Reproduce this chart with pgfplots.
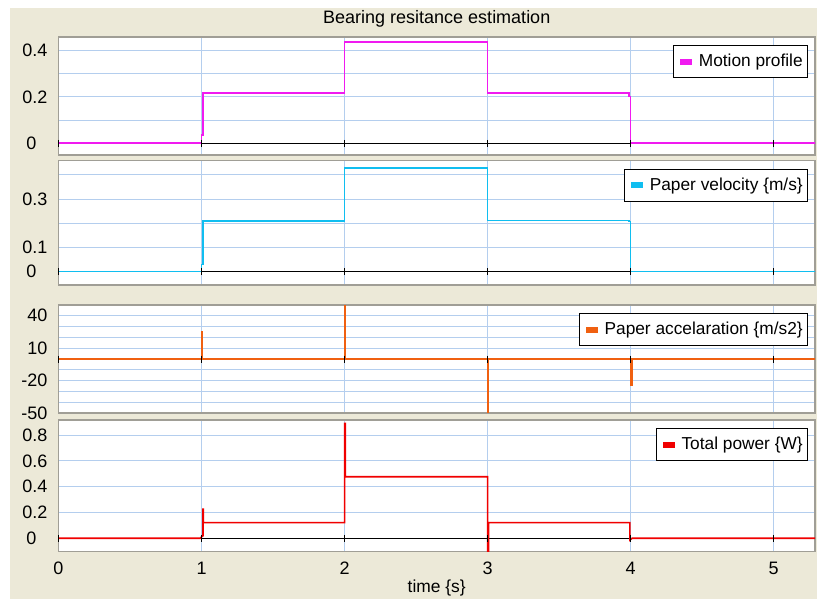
\documentclass[border=0pt]{standalone}
\usepackage{pgfplots}
\pgfplotsset{compat=1.18}
\usepackage{fontspec}
\setmainfont{Liberation Sans}
\definecolor{bg}{HTML}{ECE9D8}
\definecolor{gridc}{HTML}{B4CEEE}
\definecolor{framec}{HTML}{A09E96}
\definecolor{mag}{HTML}{F01AF0}
\definecolor{cyn}{HTML}{10BEF0}
\definecolor{org}{HTML}{F06010}
\definecolor{rd}{HTML}{F00000}
\pgfplotsset{
 panel/.style={scale only axis, width=756.5pt, xmin=0, xmax=5.289,
   axis background/.style={fill=white},
   xtick={0,1,2,3,4,5}, xticklabels={}, grid=major,
   major grid style={gridc, line width=0.8pt},
   major tick length=0pt,
   axis line style={framec, line width=1.5pt},
   tick label style={font=\fontsize{18}{21}\selectfont},
   /pgf/number format/assume math mode=true,
   yticklabel style={inner sep=0pt, xshift=-11pt},
   xticklabel style={inner sep=0pt, yshift=-10pt},
   extra y ticks={0}, extra y tick labels={0},
   extra y tick style={grid=none, major tick length=0pt, yticklabel style={inner sep=0pt, xshift=-11pt}},
   legend style={at={(1,1)}, anchor=north east, xshift=-7pt, yshift=-8pt,
     draw=black, line width=0.6pt, fill=white, font=\fontsize{17.3}{20}\selectfont, inner xsep=3pt, inner ysep=7pt},
   legend cell align=left},
 zeroline/.style={black, line width=1pt, forget plot},
 ticksz/.style={black, only marks, mark=|, mark size=3.5pt, mark options={line width=1pt}, forget plot},
 ser/.style={line width=1.6pt, forget plot},
 limg/.style={legend image code/.code={\fill[#1] (4pt,-2.5pt) rectangle (15pt,2.5pt); \path (0pt,0pt) (20pt,0pt);}},
}
\begin{document}
\begin{tikzpicture}
\useasboundingbox (0,0) rectangle (817pt,-599pt);
\fill[white] (0,0) rectangle (817pt,-599pt);
\fill[bg] (10pt,-8pt) rectangle (817pt,-599pt);

% Panel 1
\begin{axis}[panel, at={(58.5pt,-37pt)}, anchor=north west, height=118pt,
  ymin=-0.0505, ymax=0.458, ytick={0.1,0.2,0.3,0.4}, yticklabels={{},0.2,{},0.4},
  title={Bearing resitance estimation},
  title style={at={(0.5,1)}, anchor=center, yshift=12pt, inner sep=0pt, font=\fontsize{18}{21}\selectfont}]
\addplot[zeroline] coordinates {(1,0) (4,0)};
\addplot[ser, mag] coordinates {(0,0) (1,0) (1,0.035) (1.01,0.035) (1.01,0.217) (2,0.217) (2,0.437) (3,0.437) (3,0.217) (3.99,0.217) (3.99,0.201) (4,0.201) (4,0) (5.3,0)};
\addplot[ticksz] coordinates {(0,0) (1,0) (2,0) (3,0) (4,0) (5,0)};
\addlegendimage{limg=mag}
\addlegendentry{Motion profile}
\end{axis}

% Panel 2
\begin{axis}[panel, at={(58.5pt,-160.5pt)}, anchor=north west, height=124.5pt,
  ymin=-0.055, ymax=0.4595, ytick={0.1,0.2,0.3,0.4}, yticklabels={0.1,{},0.3,{}}]
\addplot[zeroline] coordinates {(1,0) (4,0)};
\addplot[ser, cyn] coordinates {(0,0) (1,0) (1,0.03) (1.01,0.03) (1.01,0.209) (2,0.209) (2,0.428) (3,0.428) (3,0.212) (3.99,0.212) (3.99,0.207) (4,0.207) (4,0) (5.3,0)};
\addplot[ticksz] coordinates {(0,0) (1,0) (2,0) (3,0) (4,0) (5,0)};
\addlegendimage{limg=cyn}
\addlegendentry{Paper velocity \{m/s\}}
\end{axis}

% Panel 3
\begin{axis}[panel, at={(58.5pt,-305pt)}, anchor=north west, height=108pt,
  ymin=-50, ymax=50, ytick={-50,-40,-30,-20,-10,10,20,30,40,50},
  yticklabels={-50,{},{},-20,{},10,{},{},40,{}}, extra y tick labels={}]
\addplot[ser, org] coordinates {(0,0) (1,0) (1,25) (1.008,25) (1.008,0) (2,0) (2,49) (2.006,49) (2.006,0) (3,0) (3,-49.5) (3.006,-49.5) (3.006,0) (4,0) (4,-24) (4.008,-24) (4.008,0) (5.3,0)};
\addplot[ticksz] coordinates {(0,0) (1,0) (2,0) (3,0) (4,0) (5,0)};
\addlegendimage{limg=org}
\addlegendentry{Paper accelaration \{m/s2\}}
\end{axis}

% Panel 4
\begin{axis}[panel, at={(58.5pt,-420pt)}, anchor=north west, height=131.7pt,
  ymin=-0.104, ymax=0.917, ytick={0.2,0.4,0.6,0.8}, yticklabels={0.2,0.4,0.6,0.8},
  xticklabels={0,1,2,3,4,5},
  xlabel={time \{s\}},
  xlabel style={at={(0.5,0)}, anchor=center, yshift=-36.3pt, inner sep=0pt, font=\fontsize{17.4}{20}\selectfont}]
\addplot[zeroline] coordinates {(1,0) (4,0)};
\addplot[ser, rd] coordinates {(0,0) (0.99,0) (1.01,0.02) (1.01,0.225) (1.012,0.225) (1.012,0.121) (2,0.121) (2,0.89) (2.006,0.89) (2.006,0.477) (3,0.477) (3,-0.104) (3.006,-0.104) (3.006,0.121) (3.99,0.121) (3.995,0.121) (3.995,-0.013) (4.01,0) (5.3,0)};
\addplot[ticksz] coordinates {(0,0) (1,0) (2,0) (3,0) (4,0) (5,0)};
\addlegendimage{limg=rd}
\addlegendentry{Total power \{W\}}
\end{axis}
\end{tikzpicture}
\end{document}
